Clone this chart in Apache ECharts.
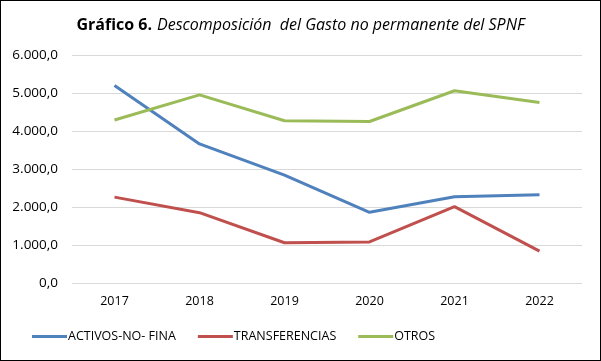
<!DOCTYPE html>
<html><head><meta charset="utf-8">
<script src="https://cdn.jsdelivr.net/npm/echarts@6/dist/echarts.min.js"></script>
<style>html,body{margin:0;padding:0;background:#fff}#c{width:599px;height:359px;border:1px solid #000}</style>
</head><body><div id="c"></div>
<script>
const categories = ['2017','2018','2019','2020','2021','2022'];
const activos = [5200, 3660, 2840, 1860, 2270, 2320];
const transferencias = [2260, 1850, 1060, 1080, 2010, 840];
const otros = [4290, 4950, 4270, 4250, 5060, 4750];
const yTicks = {min: 0, max: 6000, interval: 1000};

const chart = echarts.init(document.getElementById('c'));
const fmt = v => {
  const s = Math.round(v).toString().replace(/\B(?=(\d{3})+(?!\d))/g, '.');
  return s + ',0';
};
const lineStyle = c => ({color: c, width: 3});
chart.setOption({
  animation: false,
  title: {
    text: '{b|Gráfico 6.} {i|Descomposición  del Gasto no permanente del SPNF}',
    left: 'center', top: 10,
    textStyle: {fontWeight: 'normal', rich: {
      b: {fontFamily: 'Open Sans', fontWeight: 'bold', fontSize: 16, color: '#000'},
      i: {fontFamily: 'Open Sans', fontStyle: 'italic', fontWeight: 'normal', fontSize: 16, color: '#000'}
    }}
  },
  grid: {left: 71, right: 18, top: 54, bottom: 77},
  legend: {
    bottom: 12, left: 26,
    itemWidth: 35, itemHeight: 3, itemGap: 22,
    icon: 'rect',
    textStyle: {fontFamily: 'Open Sans', fontSize: 12.5, color: '#000', padding: [0,0,0,-4]},
    data: ['ACTIVOS-NO- FINA', 'TRANSFERENCIAS', 'OTROS']
  },
  xAxis: {
    type: 'category', data: categories, boundaryGap: true,
    axisLine: {show: false}, axisTick: {show: false},
    axisLabel: {fontFamily: 'Open Sans', fontSize: 12.5, color: '#000', margin: 12}
  },
  yAxis: {
    type: 'value', min: yTicks.min, max: yTicks.max, interval: yTicks.interval,
    axisLine: {show: false}, axisTick: {show: false},
    splitLine: {lineStyle: {color: '#d9d9d9', width: 1}},
    axisLabel: {fontFamily: 'Open Sans', fontSize: 13.5, color: '#000', margin: 14, formatter: fmt}
  },
  series: [
    {name: 'ACTIVOS-NO- FINA', type: 'line', data: activos, symbol: 'none', lineStyle: lineStyle('#4F81BD'), itemStyle: {color: '#4F81BD'}},
    {name: 'TRANSFERENCIAS', type: 'line', data: transferencias, symbol: 'none', lineStyle: lineStyle('#C0504D'), itemStyle: {color: '#C0504D'}},
    {name: 'OTROS', type: 'line', data: otros, symbol: 'none', lineStyle: lineStyle('#9BBB59'), itemStyle: {color: '#9BBB59'}}
  ]
});
</script></body></html>
